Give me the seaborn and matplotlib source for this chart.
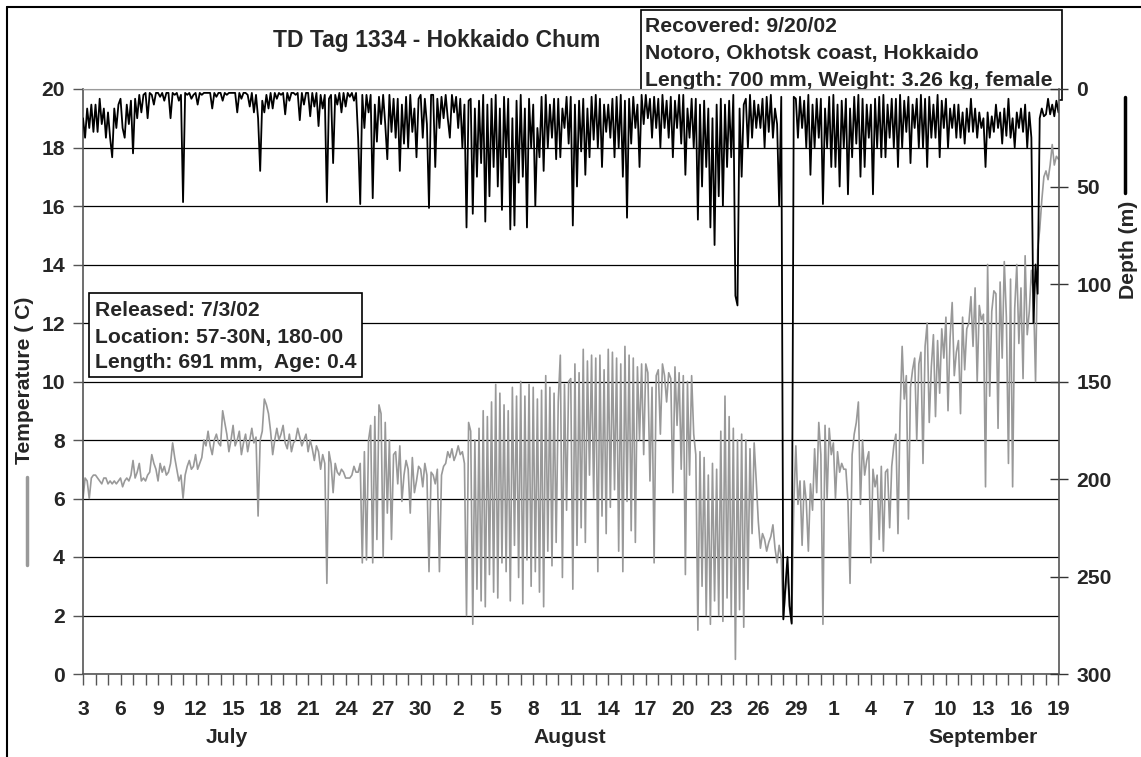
import numpy as np
import pandas as pd
import seaborn as sns
import matplotlib.pyplot as plt
import matplotlib.dates as mdates
from matplotlib.lines import Line2D
from matplotlib.patches import Rectangle

# Tag readings, one every 4 hours, Jul 3 2002 00:00 -> Sep 19 2002 00:00
temperature = [
    6.0, 6.7, 6.6, 6.0, 6.7, 6.8,   6.8, 6.7, 6.6, 6.5, 6.7, 6.7,      # Jul 3-4
    6.5, 6.6, 6.5, 6.6, 6.5, 6.6,   6.7, 6.4, 6.6, 6.7, 6.6, 6.8,      # Jul 5-6
    7.3, 6.7, 6.9, 7.2, 6.6, 6.7,   6.6, 6.8, 6.9, 7.5, 7.2, 7.0,      # Jul 7-8
    6.6, 7.2, 6.9, 7.1, 6.8, 6.9,   7.2, 7.9, 7.4, 7.0, 6.6, 6.8,      # Jul 9-10
    6.0, 6.8, 7.1, 7.3, 7.0, 7.1,   7.5, 7.0, 7.2, 7.4, 8.0, 7.8,      # Jul 11-12
    8.3, 7.8, 7.5, 8.0, 8.2, 7.9,   7.8, 9.0, 8.6, 8.2, 7.6, 8.0,      # Jul 13-14
    8.5, 7.8, 8.0, 8.3, 7.5, 7.9,   8.2, 7.6, 8.0, 8.4, 7.9, 8.1,      # Jul 15-16
    5.4, 8.0, 8.3, 9.4, 9.2, 8.9,   8.3, 7.5, 8.0, 8.4, 8.0, 8.2,      # Jul 17-18
    8.5, 7.9, 7.7, 8.2, 7.6, 7.9,   8.0, 8.4, 8.1, 7.8, 8.0, 8.2,      # Jul 19-20
    7.6, 8.0, 7.7, 7.3, 7.8, 7.6,   7.0, 7.5, 7.2, 3.1, 7.6, 7.2,      # Jul 21-22
    6.2, 7.2, 6.9, 6.8, 7.0, 6.9,   6.7, 6.7, 6.7, 6.8, 7.1, 6.9,      # Jul 23-24
    6.9, 7.2, 3.8, 7.6, 3.9, 8.0,   8.5, 3.8, 8.8, 4.6, 9.2, 8.9,      # Jul 25-26
    4.0, 8.6, 5.5, 8.0, 4.6, 7.5,   7.6, 6.5, 7.8, 5.9, 6.8, 7.3,      # Jul 27-28
    7.0, 5.5, 7.4, 6.2, 6.6, 7.1,   7.0, 6.4, 7.2, 6.8, 3.5, 6.9,      # Jul 29-30
    6.8, 6.5, 7.0, 3.5, 6.8, 7.1,   7.2, 7.6, 7.4, 7.7, 7.3, 7.5,      # Jul 31-Aug 1
    7.8, 7.5, 7.6, 7.2, 2.0, 8.6,   8.3, 1.7, 8.0, 2.9, 8.4, 2.5,      # Aug 2-3
    9.0, 2.3, 8.8, 3.4, 9.3, 2.8,   9.9, 2.6, 9.6, 3.8, 9.2, 3.5,      # Aug 4-5
    9.0, 2.5, 9.8, 4.4, 9.5, 3.3,   10.0, 2.4, 9.5, 3.9, 9.9, 3.0,     # Aug 6-7
    9.8, 3.5, 9.4, 2.8, 9.7, 2.3,   10.2, 4.2, 9.8, 3.7, 9.6, 4.5,     # Aug 8-9
    9.3, 10.9, 3.3, 9.9, 5.6, 10.0,  10.1, 2.9, 10.6, 4.4, 10.3, 5.0,  # Aug 10-11
    11.1, 4.5, 10.7, 6.8, 10.9, 6.0,  10.8, 3.5, 10.9, 5.4, 10.4, 4.8,  # Aug 12-13
    11.1, 5.7, 11.0, 6.3, 10.8, 4.2,  10.6, 3.5, 11.2, 5.9, 10.9, 4.9,  # Aug 14-15
    10.8, 4.5, 10.5, 8.0, 10.6, 7.5,  10.6, 10.3, 6.6, 9.8, 3.8, 10.2,  # Aug 16-17
    10.4, 8.2, 10.6, 10.2, 9.3, 10.3,  10.1, 6.2, 10.5, 8.5, 10.3, 7.0,  # Aug 18-19
    10.2, 3.4, 10.0, 6.8, 10.2, 8.2,  7.5, 1.5, 7.6, 3.0, 7.4, 2.0,     # Aug 20-21
    6.8, 1.7, 7.2, 2.5, 7.0, 2.0,   8.3, 1.8, 9.5, 2.6, 8.8, 2.0,      # Aug 22-23
    8.4, 0.5, 8.0, 2.2, 8.2, 1.6,   8.0, 2.9, 7.7, 4.8, 7.9, 6.6,      # Aug 24-25
    5.2, 4.3, 4.8, 4.6, 4.2, 4.5,   4.7, 5.1, 4.3, 3.8, 4.4, 4.0,      # Aug 26-27
    1.9, 2.8, 3.5, 2.2, 1.7, 5.8,   7.8, 5.8, 6.6, 4.4, 6.6, 5.9,      # Aug 28-29
    4.2, 6.5, 5.6, 7.7, 6.2, 8.6,   7.5, 1.7, 8.5, 6.0, 8.4, 7.5,      # Aug 30-31
    7.9, 6.0, 7.6, 6.9, 7.2, 7.0,   7.0, 5.9, 3.1, 7.5, 8.2, 8.6,      # Sep 1-2
    9.3, 5.8, 8.0, 6.8, 7.3, 7.6,   3.8, 7.0, 6.4, 6.8, 4.6, 7.1,      # Sep 3-4
    4.2, 6.9, 7.0, 5.0, 7.1, 7.8,   8.2, 4.8, 8.9, 11.2, 9.4, 10.2,    # Sep 5-6
    5.3, 9.8, 10.4, 10.8, 8.0, 10.6,  11.0, 7.2, 11.2, 12.0, 8.6, 10.5,  # Sep 7-8
    11.6, 8.8, 11.4, 9.6, 11.8, 10.8,  12.2, 9.0, 11.5, 12.7, 10.2, 11.0,  # Sep 9-10
    11.4, 8.9, 12.2, 10.4, 11.8, 12.0,  12.9, 11.2, 13.2, 10.0, 12.6, 12.1,  # Sep 11-12
    12.3, 6.4, 14.0, 9.5, 12.4, 13.1,  13.0, 8.4, 13.4, 10.8, 14.1, 12.2,  # Sep 13-14
    7.2, 13.5, 6.4, 12.5, 14.0, 11.3,  13.2, 10.1, 14.3, 11.6, 12.4, 13.8,  # Sep 15-16
    13.0, 10.0, 14.5, 15.2, 16.2, 17.0,  17.2, 16.9, 17.4, 18.1, 17.4, 17.7,  # Sep 17-18
    17.6,                                                               # Sep 19
]

depth = [
    15, 25, 10, 20, 8, 22,    8, 22, 5, 18, 10, 25,      # Jul 3-4
    12, 25, 35, 10, 20, 8,    5, 20, 25, 8, 18, 6,       # Jul 5-6
    33, 5, 15, 3, 12, 3,      2, 15, 2, 3, 8, 2,         # Jul 7-8
    2, 4, 2, 6, 2, 2,         15, 2, 3, 2, 6, 3,         # Jul 9-10
    58, 2, 3, 2, 5, 3,        2, 8, 2, 3, 2, 2,          # Jul 11-12
    2, 2, 10, 2, 4, 2,        2, 6, 2, 3, 2, 2,          # Jul 13-14
    2, 2, 12, 2, 5, 2,        2, 3, 9, 2, 12, 3,         # Jul 15-16
    15, 42, 6, 12, 3, 10,     2, 10, 2, 5, 2, 3,         # Jul 17-18
    2, 13, 2, 6, 2, 2,        3, 2, 16, 2, 8, 2,         # Jul 19-20
    2, 14, 2, 9, 2, 19,       3, 10, 3, 58, 5, 3,        # Jul 21-22
    38, 3, 8, 2, 12, 2,       9, 2, 4, 2, 6, 2,          # Jul 23-24
    25, 59, 3, 20, 3, 12,     3, 56, 8, 27, 4, 18,       # Jul 25-26
    3, 18, 36, 3, 22, 5,      25, 5, 42, 8, 28, 4,       # Jul 27-28
    30, 3, 22, 10, 35, 5,     3, 25, 5, 18, 61, 3,       # Jul 29-30
    3, 40, 5, 20, 4, 15,      3, 15, 25, 3, 12, 4,       # Jul 31-Aug 1
    20, 5, 30, 8, 71, 6,      5, 64, 10, 45, 6, 38,      # Aug 2-3
    3, 68, 8, 55, 5, 40,      3, 50, 10, 62, 4, 35,      # Aug 4-5
    5, 72, 15, 70, 6, 48,     3, 45, 10, 71, 5, 30,      # Aug 6-7
    8, 60, 20, 35, 4, 42,     3, 30, 8, 25, 5, 36,       # Aug 8-9
    5, 35, 10, 20, 4, 28,     4, 70, 8, 50, 6, 32,       # Aug 10-11
    5, 44, 10, 35, 4, 26,     3, 30, 5, 40, 8, 22,       # Aug 12-13
    8, 25, 5, 35, 4, 30,      3, 45, 6, 66, 5, 28,       # Aug 14-15
    4, 20, 8, 40, 3, 18,      3, 15, 5, 25, 4, 20,       # Aug 16-17
    5, 30, 3, 20, 6, 25,      4, 35, 6, 20, 3, 28,       # Aug 18-19
    3, 44, 10, 25, 5, 30,     5, 67, 8, 50, 6, 40,       # Aug 20-21
    10, 71, 15, 80, 8, 55,    5, 60, 8, 40, 6, 35,       # Aug 22-23
    3, 106, 111, 10, 45, 8,   5, 30, 3, 25, 6, 20,       # Aug 24-25
    8, 20, 5, 30, 4, 22,      3, 25, 10, 18, 60, 4,      # Aug 26-27
    272, 255, 240, 265, 274, 4,  5, 25, 4, 20, 6, 30,    # Aug 28-29
    3, 44, 8, 30, 5, 25,      5, 59, 10, 30, 4, 40,      # Aug 30-31
    3, 40, 8, 50, 6, 30,      5, 54, 10, 35, 4, 28,      # Sep 1-2
    3, 45, 5, 40, 8, 25,      8, 54, 5, 30, 4, 35,       # Sep 3-4
    3, 35, 8, 25, 5, 30,      5, 40, 3, 30, 6, 22,       # Sep 5-6
    4, 38, 8, 20, 5, 30,      3, 30, 5, 40, 4, 25,       # Sep 7-8
    8, 25, 3, 35, 6, 20,      5, 30, 10, 20, 8, 25,      # Sep 9-10
    8, 25, 12, 28, 10, 22,    5, 22, 10, 25, 12, 20,     # Sep 11-12
    15, 40, 12, 25, 14, 22,   8, 20, 12, 28, 10, 24,     # Sep 13-14
    5, 25, 15, 30, 12, 20,    10, 22, 8, 30, 12, 25,     # Sep 15-16
    120, 90, 105, 15, 10, 14,  13, 5, 13, 8, 14, 6,      # Sep 17-18
    12,                                                  # Sep 19
]

times = pd.date_range('2002-07-03', periods=len(temperature), freq='4h')

tick_dates = pd.date_range('2002-07-03', '2002-09-19', freq='3D')
tick_labels = [str(d.day) for d in tick_dates]
day_dates = pd.date_range('2002-07-03', '2002-09-19', freq='D')
month_names = ['July', 'August', 'September']
month_centers = ['2002-07-14 12:00', '2002-08-10 22:00', '2002-09-13 00:00']

released_text = ['Released: 7/3/02', 'Location: 57-30N, 180-00', 'Length: 691 mm,  Age: 0.4']
recovered_text = ['Recovered: 9/20/02', 'Notoro, Okhotsk coast, Hokkaido',
                  'Length: 700 mm, Weight: 3.26 kg, female']

sns.set_style('white')
plt.rcParams['font.family'] = ['Liberation Sans', 'DejaVu Sans']
plt.rcParams['font.weight'] = 'bold'

W, H = 1141, 757
fs = 15.2
fig = plt.figure(figsize=(W / 100, H / 100), dpi=100)


def fx(x):
    return x / W


def fy(y):
    return 1 - y / H


ax1 = fig.add_axes([fx(83), fy(674), (1059 - 83) / W, (674 - 89) / H])
ax1.set_facecolor('white')
ax2 = ax1.twinx()

sns.lineplot(x=times, y=temperature, ax=ax1, color='#999999', linewidth=1.2)
sns.lineplot(x=times, y=depth, ax=ax2, color='black', linewidth=1.3)

# left axis: temperature
ax1.set_ylim(0, 20)
ax1.set_yticks(range(0, 21, 2))
ax1.yaxis.grid(True, color='black', linewidth=0.9)
ax1.set_axisbelow(True)
ax1.set_xlim(times[0], pd.Timestamp('2002-09-19 01:00'))
ax1.set_xticks(tick_dates)
ax1.set_xticklabels(tick_labels)
ax1.set_xticks(day_dates, minor=True)
ax1.tick_params(axis='y', left=True, direction='out', length=7, width=1,
                color='#555555', pad=6, labelsize=fs)
ax1.tick_params(axis='x', which='both', bottom=True, direction='out', length=8,
                width=1, color='#555555', pad=11, labelsize=fs)
ax1.set_xlabel('')
ax1.set_ylabel('')
for side in ['left', 'bottom']:
    ax1.spines[side].set_color('#555555')
    ax1.spines[side].set_linewidth(1.2)
ax1.spines['top'].set_color('#9a9a9a')
ax1.spines['right'].set_visible(False)

# right axis: depth, inverted
ax2.set_ylim(300, 0)
ax2.set_yticks(range(0, 301, 50))
ax2.tick_params(axis='y', right=True, direction='inout', length=13, width=1,
                color='#333333', pad=6, labelsize=fs)
ax2.set_ylabel('')
ax2.set_xlabel('')
for side in ['left', 'bottom', 'top']:
    ax2.spines[side].set_visible(False)
ax2.spines['right'].set_color('#555555')
ax2.spines['right'].set_linewidth(1.2)

for name, center in zip(month_names, month_centers):
    ax1.text(mdates.date2num(pd.Timestamp(center)), -0.109, name,
             transform=ax1.get_xaxis_transform(), ha='center', va='center', fontsize=fs)

# title and info boxes
fig.text(fx(437), fy(41), 'TD Tag 1334 - Hokkaido Chum', ha='center', va='center', fontsize=16.5)

fig.add_artist(Rectangle((fx(641), fy(100)), (1062 - 641) / W, 90 / H, transform=fig.transFigure,
                         facecolor='white', edgecolor='black', linewidth=1.2, zorder=-2))
for line, y in zip(recovered_text, [26, 54, 81]):
    fig.text(fx(645), fy(y), line, ha='left', va='center', fontsize=fs, zorder=-1)

fig.add_artist(Rectangle((fx(89), fy(377)), (362 - 89) / W, (377 - 293) / H, transform=fig.transFigure,
                         facecolor='white', edgecolor='black', linewidth=1.2, zorder=5))
for line, y in zip(released_text, [310, 337, 363]):
    fig.text(fx(95), fy(y), line, ha='left', va='center', fontsize=fs, zorder=6)

# axis titles with their line keys
fig.text(fx(25), fy(380), 'Temperature ( C)', rotation=90, ha='center', va='center', fontsize=fs)
fig.add_artist(Line2D([fx(27), fx(27)], [fy(477), fy(565)], color='#999999', linewidth=2.5))
fig.text(fx(1128), fy(250), 'Depth (m)', rotation=90, ha='center', va='center', fontsize=fs)
fig.add_artist(Line2D([fx(1125), fx(1125)], [fy(97), fy(193)], color='black', linewidth=2.5))

# outer chart frame (cropped at right and bottom)
fig.add_artist(Line2D([fx(7), fx(7)], [0, fy(7)], color='black', linewidth=1.5))
fig.add_artist(Line2D([fx(7), 1], [fy(7), fy(7)], color='black', linewidth=1.5))

fig.savefig('out.png', dpi=100)
